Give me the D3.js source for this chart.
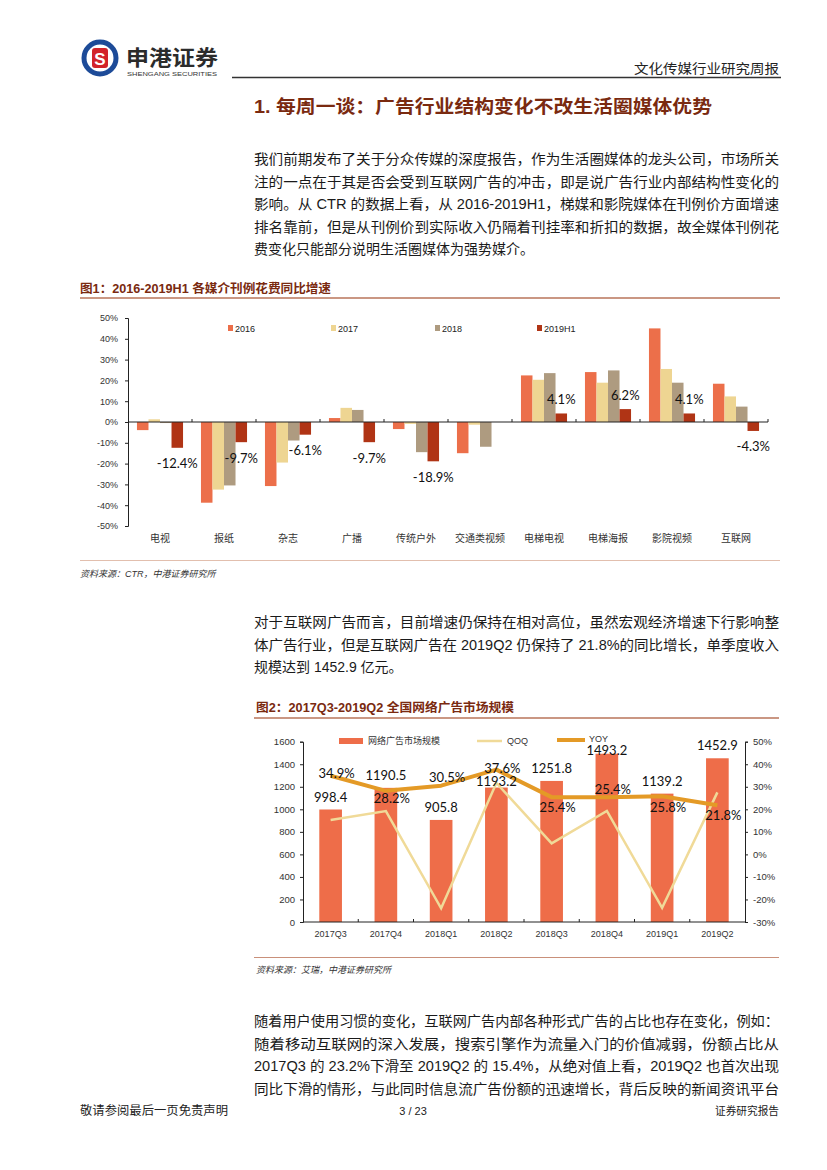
<!DOCTYPE html>
<html><head><meta charset="utf-8">
<script src="https://cdn.jsdelivr.net/npm/d3@7"></script>
<style>body{margin:0;background:#fff}svg{display:block}</style>
</head><body><svg id="page" width="827" height="1170"></svg>
<script>
// ---------- DATA ----------
const mediaCategories = ["电视","报纸","杂志","广播","传统户外","交通类视频","电梯电视","电梯海报","影院视频","互联网"];
const mediaSeries = ["2016","2017","2018","2019H1"];
const growth2016 = [-3.9,-38.8,-30.8,1.9,-3.4,-15.0,22.4,24.0,45.0,18.4];
const growth2017 = [1.3,-32.5,-19.5,6.8,-0.9,-1.3,20.3,18.9,25.5,12.3];
const growth2018 = [-0.5,-30.5,-8.9,5.8,-14.5,-11.9,23.5,24.8,18.9,7.4];
const growth2019H1 = [-12.4,-9.7,-6.1,-9.7,-18.9,null,4.1,6.2,4.1,-4.3];
const growthTicks = [-50,-40,-30,-20,-10,0,10,20,30,40,50];

const quarters = ["2017Q3","2017Q4","2018Q1","2018Q2","2018Q3","2018Q4","2019Q1","2019Q2"];
const adMarket = [998.4,1190.5,905.8,1193.2,1251.8,1493.2,1139.2,1452.9];
const qoq = [15.3,19.2,-23.9,31.7,4.9,19.3,-23.7,27.5];
const yoy = [34.9,28.2,30.5,37.6,25.4,25.4,25.8,21.8];
const marketTicks = [0,200,400,600,800,1000,1200,1400,1600];
const pctTicks = [-30,-20,-10,0,10,20,30,40,50];
const legend2 = ["网络广告市场规模","QOQ","YOY"];

// ---------- STYLE ----------
const FONT = "'Liberation Sans','Noto Sans CJK SC',sans-serif";
const CJK = "'Noto Sans CJK SC',sans-serif";
const NUM = "Lato,'Liberation Sans',sans-serif";
const TITLE_RED = "#7a2a10";
const svg = d3.select("#page");

function line(x, y, txt, opt = {}) {
  const t = svg.append("text").attr("x", x).attr("y", y).text(txt)
    .attr("font-family", opt.family || FONT).attr("font-size", opt.size || 14)
    .attr("fill", opt.color || "#1a1a1a");
  if (opt.weight) t.attr("font-weight", opt.weight);
  if (opt.anchor) t.attr("text-anchor", opt.anchor);
  if (opt.style) t.attr("font-style", opt.style);
  if (opt.len) t.attr("textLength", opt.len).attr("lengthAdjust", "spacingAndGlyphs");
  return t;
}

// ---------- HEADER ----------
const logo = svg.append("g");
logo.append("circle").attr("cx", 100).attr("cy", 58).attr("r", 16).attr("fill", "#fff")
  .attr("stroke", "#1d4b98").attr("stroke-width", 5);
logo.append("rect").attr("x", 92).attr("y", 48).attr("width", 16).attr("height", 20).attr("rx", 3).attr("fill", "#d2232a");
logo.append("text").attr("x", 100).attr("y", 65).attr("text-anchor", "middle").attr("font-size", 17)
  .attr("font-weight", "bold").attr("font-family", FONT).attr("fill", "#fff").text("S");
line(126, 65, "申港证券", {size: 21, weight: "bold", color: "#2b2b2b", family: CJK, len: 92});
line(127, 76, "SHENGANG SECURITIES", {size: 6, color: "#333", len: 90});
svg.append("line").attr("x1", 232).attr("x2", 781).attr("y1", 77.5).attr("y2", 77.5)
  .attr("stroke", "#333").attr("stroke-width", 1.5);
line(779, 73, "文化传媒行业研究周报", {size: 13, anchor: "end", color: "#222", family: CJK, len: 145});

// ---------- SECTION TITLE ----------
line(254, 113, "1. 每周一谈：广告行业结构变化不改生活圈媒体优势", {size: 18, weight: "bold", color: TITLE_RED, family: FONT, len: 458});

// ---------- PARAGRAPHS ----------
function para(lines, y0, full) {
  lines.forEach((s, i) => {
    line(254, y0 + i * 22.6, s, {size: 14, len: (i < lines.length - 1 || full) ? 525 : null});
  });
}
para(["我们前期发布了关于分众传媒的深度报告，作为生活圈媒体的龙头公司，市场所关",
      "注的一点在于其是否会受到互联网广告的冲击，即是说广告行业内部结构性变化的",
      "影响。从 CTR 的数据上看，从 2016-2019H1，梯媒和影院媒体在刊例价方面增速",
      "排名靠前，但是从刊例价到实际收入仍隔着刊挂率和折扣的数据，故全媒体刊例花",
      "费变化只能部分说明生活圈媒体为强势媒介。"], 164, false);
para(["对于互联网广告而言，目前增速仍保持在相对高位，虽然宏观经济增速下行影响整",
      "体广告行业，但是互联网广告在 2019Q2 仍保持了 21.8%的同比增长，单季度收入",
      "规模达到 1452.9 亿元。"], 627, false);
para(["随着用户使用习惯的变化，互联网广告内部各种形式广告的占比也存在变化，例如：",
      "随着移动互联网的深入发展，搜索引擎作为流量入门的价值减弱，份额占比从",
      "2017Q3 的 23.2%下滑至 2019Q2 的 15.4%，从绝对值上看，2019Q2 也首次出现",
      "同比下滑的情形，与此同时信息流广告份额的迅速增长，背后反映的新闻资讯平台"], 1026, true);

// ---------- FOOTER ----------
line(80, 1115, "敬请参阅最后一页免责声明", {size: 12, color: "#222", family: CJK, len: 148});
line(413, 1115, "3 / 23", {size: 11, anchor: "middle", color: "#222"});
line(779, 1115, "证券研究报告", {size: 11.5, anchor: "end", color: "#222", family: CJK, len: 64});

// ---------- FIGURE 1 ----------
line(80, 293, "图1：2016-2019H1 各媒介刊例花费同比增速", {size: 12, weight: "bold", color: TITLE_RED, len: 251});
svg.append("line").attr("x1", 80).attr("x2", 780).attr("y1", 298).attr("y2", 298).attr("stroke", "#b8745a").attr("stroke-width", 1.5);
svg.append("line").attr("x1", 80).attr("x2", 780).attr("y1", 560.5).attr("y2", 560.5).attr("stroke", "#e2bfae").attr("stroke-width", 1);
line(80, 577, "资料来源：CTR，中港证券研究所", {size: 9, color: "#333", style: "italic"});

const c1colors = ["#ec6f4a", "#eed592", "#ae9b80", "#b03415"];
const c1values = [growth2016, growth2017, growth2018, growth2019H1];
const x1 = d3.scaleBand().domain(mediaCategories).range([128, 768]).paddingInner(0.28).paddingOuter(0.14);
const xs1 = d3.scaleBand().domain(mediaSeries).range([0, x1.bandwidth()]);
const y1 = d3.scaleLinear().domain([-50, 50]).range([526, 318]);

const g1 = svg.append("g");
mediaSeries.forEach((s, si) => {
  g1.append("g").selectAll("rect").data(mediaCategories.map((c, i) => ({c, v: c1values[si][i]})).filter(d => d.v !== null))
    .join("rect")
    .attr("x", d => x1(d.c) + xs1(s))
    .attr("width", xs1.bandwidth())
    .attr("y", d => y1(Math.max(0, d.v)))
    .attr("height", d => Math.abs(y1(d.v) - y1(0)))
    .attr("fill", c1colors[si]);
});
// y axis
const ax1 = g1.append("g").attr("transform", "translate(128,0)")
  .call(d3.axisLeft(y1).tickValues(growthTicks).tickSize(3).tickFormat(d => d + "%"));
ax1.select(".domain").attr("stroke", "#222");
ax1.selectAll(".tick line").attr("stroke", "#222");
ax1.selectAll("text").attr("font-family", FONT).attr("font-size", 9).attr("fill", "#333").attr("x", -10);
// zero axis
g1.append("line").attr("x1", 128).attr("x2", 768).attr("y1", y1(0)).attr("y2", y1(0)).attr("stroke", "#222").attr("stroke-width", 1.2);
g1.append("g").selectAll("line").data(mediaCategories).join("line")
  .attr("x1", d => x1(d) + x1.bandwidth() / 2 + x1.step() / 2).attr("x2", d => x1(d) + x1.bandwidth() / 2 + x1.step() / 2)
  .attr("y1", y1(0)).attr("y2", y1(0) - 3).attr("stroke", "#222");
g1.append("g").selectAll("text").data(mediaCategories).join("text")
  .attr("x", d => x1(d) + x1.bandwidth() / 2).attr("y", 542)
  .attr("text-anchor", "middle").attr("font-family", CJK).attr("font-size", 10).attr("fill", "#333").text(d => d);
// 2019H1 labels
g1.append("g").selectAll("text").data(mediaCategories.map((c, i) => ({c, v: growth2019H1[i]})).filter(d => d.v !== null))
  .join("text")
  .attr("x", d => x1(d.c) + xs1("2019H1") + xs1.bandwidth() / 2)
  .attr("y", d => d.v < 0 ? y1(d.v) + 20.5 : y1(d.v) - 9)
  .attr("text-anchor", "middle").attr("font-family", NUM).attr("font-size", 13).attr("fill", "#111")
  .text(d => d.v.toFixed(1) + "%");
// legend
const leg1x = [228, 331, 435, 537];
mediaSeries.forEach((s, i) => {
  g1.append("rect").attr("x", leg1x[i]).attr("y", 325).attr("width", 5).attr("height", 6).attr("fill", c1colors[i]);
  g1.append("text").attr("x", leg1x[i] + 7).attr("y", 331.5).attr("font-family", FONT).attr("font-size", 9).attr("fill", "#222").text(s);
});

// ---------- FIGURE 2 ----------
line(256, 712, "图2：2017Q3-2019Q2 全国网络广告市场规模", {size: 12, weight: "bold", color: TITLE_RED, len: 258});
svg.append("line").attr("x1", 254).attr("x2", 779).attr("y1", 718).attr("y2", 718).attr("stroke", "#b8745a").attr("stroke-width", 1.5);
svg.append("line").attr("x1", 254).attr("x2", 779).attr("y1", 957.5).attr("y2", 957.5).attr("stroke", "#c9907a").attr("stroke-width", 1);
line(256, 973, "资料来源：艾瑞，中港证券研究所", {size: 9, color: "#333", style: "italic"});

const barColor = "#ee6d49", qoqColor = "#f0da98", yoyColor = "#e49a26";
const x2 = d3.scaleBand().domain(quarters).range([303, 745]).paddingInner(0.59).paddingOuter(0.295);
const y2 = d3.scaleLinear().domain([0, 1600]).range([922, 741.7]);
const y2r = d3.scaleLinear().domain([-30, 50]).range([922, 741.7]);
const cx2 = d => x2(d) + x2.bandwidth() / 2;
const g2 = svg.append("g");
g2.append("g").selectAll("rect").data(quarters.map((q, i) => ({q, v: adMarket[i]}))).join("rect")
  .attr("x", d => x2(d.q)).attr("width", x2.bandwidth())
  .attr("y", d => y2(d.v)).attr("height", d => y2(0) - y2(d.v)).attr("fill", barColor);
// axes
const ax2 = g2.append("g").attr("transform", "translate(303,0)")
  .call(d3.axisLeft(y2).tickValues(marketTicks).tickSize(3).tickFormat(d => String(d)));
const ax2r = g2.append("g").attr("transform", "translate(745,0)")
  .call(d3.axisRight(y2r).tickValues(pctTicks).tickSize(3).tickFormat(d => d + "%"));
[ax2, ax2r].forEach(a => {
  a.select(".domain").attr("stroke", "#222");
  a.selectAll(".tick line").attr("stroke", "#222");
  a.selectAll("text").attr("font-family", FONT).attr("font-size", 9.5).attr("fill", "#333");
});
ax2.selectAll("text").attr("x", -8);
ax2r.selectAll("text").attr("x", 8);
g2.append("line").attr("x1", 303).attr("x2", 745).attr("y1", 922).attr("y2", 922).attr("stroke", "#222");
g2.append("g").selectAll("line").data(quarters.slice(1)).join("line")
  .attr("x1", d => x2(d) - (x2.step() - x2.bandwidth()) / 2).attr("x2", d => x2(d) - (x2.step() - x2.bandwidth()) / 2)
  .attr("y1", 922).attr("y2", 919).attr("stroke", "#222");
g2.append("g").selectAll("text").data(quarters).join("text")
  .attr("x", cx2).attr("y", 937).attr("text-anchor", "middle")
  .attr("font-family", FONT).attr("font-size", 9).attr("fill", "#333").text(d => d);
// lines
g2.append("path").datum(quarters.map((q, i) => [cx2(q), y2r(qoq[i])]))
  .attr("d", d3.line()).attr("fill", "none").attr("stroke", qoqColor).attr("stroke-width", 2.5);
g2.append("path").datum(quarters.map((q, i) => [cx2(q), y2r(yoy[i])]))
  .attr("d", d3.line()).attr("fill", "none").attr("stroke", yoyColor).attr("stroke-width", 4).attr("stroke-linejoin", "round");
// bar labels (vertical offsets relative to bar top)
const barLabelDy = [-12.6, -12.6, -12.8, -6.5, -12.7, -3.4, -12.7, -13];
g2.append("g").selectAll("text").data(quarters.map((q, i) => ({q, v: adMarket[i], i}))).join("text")
  .attr("x", d => cx2(d.q)).attr("y", d => y2(d.v) + barLabelDy[d.i] + 5)
  .attr("text-anchor", "middle").attr("font-family", NUM).attr("font-size", 13).attr("fill", "#111")
  .text(d => d.v.toFixed(1));
// yoy labels (offsets relative to point)
const yoyLabelDy = [-3, 7, -9, -1.5, 10, -8, 11, 10];
g2.append("g").selectAll("text").data(quarters.map((q, i) => ({q, v: yoy[i], i}))).join("text")
  .attr("x", d => cx2(d.q) + 6).attr("y", d => y2r(d.v) + yoyLabelDy[d.i] + 5)
  .attr("text-anchor", "middle").attr("font-family", NUM).attr("font-size", 13).attr("fill", "#111")
  .text(d => d.v.toFixed(1) + "%");
// legend
g2.append("rect").attr("x", 339).attr("y", 738).attr("width", 24).attr("height", 6).attr("fill", barColor);
g2.append("text").attr("x", 368).attr("y", 744).attr("font-family", CJK).attr("font-size", 9).attr("fill", "#333").text(legend2[0]);
g2.append("line").attr("x1", 477).attr("x2", 502).attr("y1", 741).attr("y2", 741).attr("stroke", qoqColor).attr("stroke-width", 2.5);
g2.append("text").attr("x", 507).attr("y", 744).attr("font-family", FONT).attr("font-size", 9).attr("fill", "#333").text(legend2[1]);
g2.append("line").attr("x1", 557).attr("x2", 585).attr("y1", 740).attr("y2", 740).attr("stroke", yoyColor).attr("stroke-width", 4);
g2.append("text").attr("x", 589).attr("y", 742).attr("font-family", FONT).attr("font-size", 9).attr("fill", "#333").text(legend2[2]);
</script></body></html>
